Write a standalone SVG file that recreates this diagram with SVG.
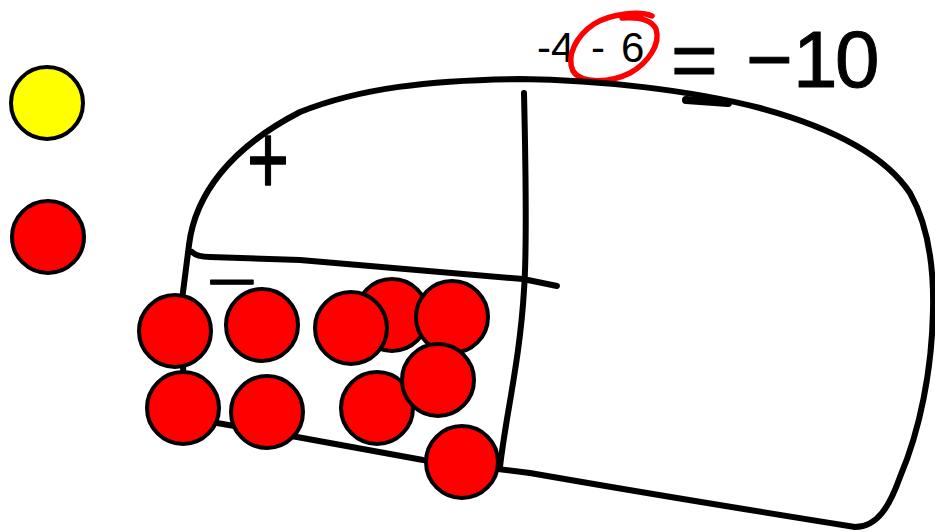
<svg xmlns="http://www.w3.org/2000/svg" width="935" height="532" viewBox="0 0 935 532">
<style>
.ink{fill:none;stroke:#000;stroke-width:6;stroke-linecap:round;stroke-linejoin:round}
.chip{stroke:#000;stroke-width:4}
.red{fill:#ff0000}
.yellow{fill:#ffff00}
.typed{font-family:"Liberation Sans",Arial,sans-serif;fill:#000}
.hand{font-family:"Liberation Sans",Arial,sans-serif;fill:#000;stroke:#000;stroke-width:1;stroke-linejoin:round}
</style>
<rect width="935" height="532" fill="#fff"/>
<g id="legend">
  <circle id="legend-yellow" class="chip yellow" cx="47" cy="103" r="36"/>
  <circle id="legend-red" class="chip red" cx="48" cy="237" r="36"/>
</g>
<g id="equation">
  <text class="typed" font-size="42" x="537 551 574 591 605 621" y="62">-4 - 6</text>
  <path d="M652 16 C640 11 612 13 594 24 C576 36 566 56 573 71 C581 84 610 83 630 73 C648 63 661 44 656 29 C651 19 636 17 622 18" fill="none" stroke="#ff0000" stroke-width="5.5" stroke-linecap="round"/>
  <text class="hand" font-size="80" x="671 720 746 793 835" y="87">= −10</text>
</g>
<g id="mat">
  <path class="ink" d="M217 423 L184 416 L182 300 L189 245 C195 195 230 148 300 112 C360 88 430 80 520 79 C600 80 690 90 760 108 C830 127 885 155 910 193 C928 225 934 265 933 310 C932 370 920 430 900 477 C890 505 878 527 855 527 C780 515 650 494 530 473 L423 460 L297 437 Z"/>
  <path d="M686 100 L728 103" fill="none" stroke="#000" stroke-width="8" stroke-linecap="round"/>
  <path id="divider-v" class="ink" d="M524 93 C526 180 527 250 524 290 C520 360 505 420 500 467"/>
  <path id="divider-h" class="ink" d="M192 252 Q197 257 210 257 L300 260 L523 279 L557 286"/>
  <text id="plus-label" class="hand" font-size="72" text-anchor="middle" transform="translate(268 194) scale(1 1.4)">+</text>
  <text id="minus-label" class="hand" font-size="60" stroke-width="2" text-anchor="middle" transform="translate(232 302) scale(1.45 1)">−</text>
</g>
<g id="chips">
  <circle id="c3" class="chip red" cx="392" cy="315" r="36"/>
  <circle id="c1" class="chip red" cx="175" cy="331" r="36"/>
  <circle id="c2" class="chip red" cx="262" cy="325" r="36"/>
  <circle id="c4" class="chip red" cx="351" cy="328" r="36"/>
  <circle id="c5" class="chip red" cx="452" cy="317" r="36"/>
  <circle id="c7" class="chip red" cx="183" cy="408" r="36"/>
  <circle id="c8" class="chip red" cx="267" cy="412" r="36"/>
  <circle id="c9" class="chip red" cx="377" cy="408" r="36"/>
  <circle id="c6" class="chip red" cx="438" cy="380" r="36"/>
  <circle id="c10" class="chip red" cx="462" cy="462" r="36"/>
</g>
</svg>
